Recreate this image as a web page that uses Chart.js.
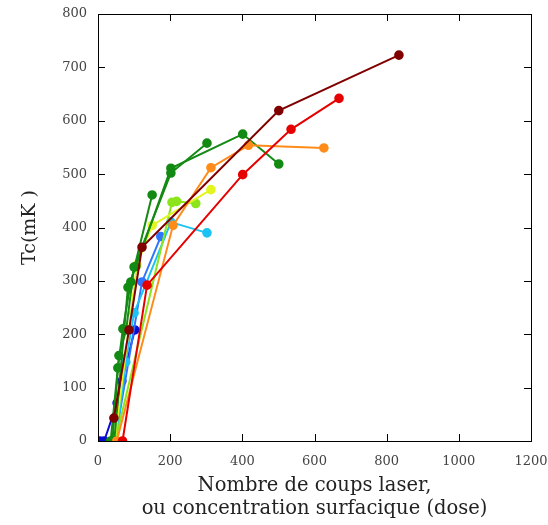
<!DOCTYPE html>
<html>
<head>
<meta charset="utf-8">
<script src="https://cdn.jsdelivr.net/npm/chart.js@4.4.1/dist/chart.umd.min.js"></script>
<style>
  html, body { margin: 0; padding: 0; background: #ffffff; }
  #wrap { width: 548px; height: 525px; }
</style>
</head>
<body>
<div id="wrap"><canvas id="tcChart" width="548" height="525"></canvas></div>
<script>
// series: dose (x) and Tc in mK (y)
const maroonX = [44, 86, 122, 501, 834];
const maroonY = [43, 208, 363, 619, 723];
const redX = [68, 136, 401, 535, 668];
const redY = [0, 292, 499, 584, 642];
const orangeX = [52, 208, 313, 417, 626];
const orangeY = [0, 404, 512, 554, 549];
const green1X = [35, 55, 69, 91, 150];
const green1Y = [0, 137, 210, 298, 461];
const green2X = [40, 58, 78, 100, 202, 302];
const green2Y = [0, 160, 208, 326, 502, 558];
const green3X = [45, 83, 105, 202, 401, 501];
const green3Y = [0, 288, 327, 511, 575, 519];
const yellowX = [46, 108, 150, 313];
const yellowY = [0, 330, 404, 471];
const lightGreenX = [48, 205, 218, 271];
const lightGreenY = [0, 447, 449, 445];
const cyanX = [50, 77, 100, 202, 302];
const cyanY = [0, 148, 240, 410, 390];
const blueX = [47, 122, 174];
const blueY = [0, 298, 383];
const navyX = [5, 17, 53, 66, 102];
const navyY = [0, 0, 71, 112, 208];

const xTicks = [0, 200, 400, 600, 800, 1000, 1200];
const yTicks = [0, 100, 200, 300, 400, 500, 600, 700, 800];

function pts(xs, ys) {
  return xs.map((x, i) => ({ x: x, y: ys[i] }));
}

function series(xs, ys, color) {
  return {
    data: pts(xs, ys),
    borderColor: color,
    backgroundColor: color,
    borderWidth: 2,
    pointRadius: 3.8,
    pointHoverRadius: 3.8,
    showLine: true,
    tension: 0
  };
}

// box around the plot with inward ticks on all four sides
const framePlugin = {
  id: 'frame',
  afterDraw(chart) {
    const { ctx, chartArea: a, scales } = chart;
    ctx.save();
    ctx.strokeStyle = '#000000';
    ctx.lineWidth = 1;
    ctx.strokeRect(a.left + 0.5, a.top + 0.5, a.right - a.left, a.bottom - a.top);
    ctx.beginPath();
    xTicks.forEach(v => {
      const px = Math.round(scales.x.getPixelForValue(v)) + 0.5;
      ctx.moveTo(px, a.bottom); ctx.lineTo(px, a.bottom - 7);
      ctx.moveTo(px, a.top); ctx.lineTo(px, a.top + 7);
    });
    yTicks.forEach(v => {
      const py = Math.round(scales.y.getPixelForValue(v)) + 0.5;
      ctx.moveTo(a.left, py); ctx.lineTo(a.left + 7, py);
      ctx.moveTo(a.right, py); ctx.lineTo(a.right - 7, py);
    });
    ctx.stroke();
    ctx.restore();
  }
};

const serif = "'DejaVu Serif', serif";

window.addEventListener('DOMContentLoaded', () => {
  const ctx = document.getElementById('tcChart').getContext('2d');

  new Chart(ctx, {
    type: 'scatter',
    data: {
      datasets: [
        series(maroonX, maroonY, '#800000'),
        series(redX, redY, '#e60000'),
        series(orangeX, orangeY, '#ff8c1a'),
        series(green1X, green1Y, '#138a13'),
        series(green2X, green2Y, '#138a13'),
        series(green3X, green3Y, '#138a13'),
        series(yellowX, yellowY, '#e2f51f'),
        series(lightGreenX, lightGreenY, '#8ce51c'),
        series(cyanX, cyanY, '#1cc3f2'),
        series(blueX, blueY, '#2f74ff'),
        series(navyX, navyY, '#0a0ad0')
      ]
    },
    options: {
      responsive: false,
      animation: false,
      layout: { padding: { left: 0, right: 17, top: 14, bottom: 0 } },
      plugins: {
        legend: { display: false },
        tooltip: { enabled: false }
      },
      scales: {
        x: {
          type: 'linear',
          min: 0,
          max: 1200,
          afterBuildTicks(scale) {
            scale.ticks = xTicks.map(v => ({ value: v }));
          },
          afterFit(scale) {
            scale.height = 84;
            scale.paddingLeft = 0;
            scale.paddingRight = 0;
          },
          grid: { display: false, drawTicks: false },
          border: { display: false },
          ticks: {
            padding: 13,
            color: '#444444',
            font: { family: serif, size: 13 },
            maxRotation: 0,
            callback: v => String(v)
          },
          title: {
            display: true,
            text: ['Nombre de coups laser,', 'ou concentration surfacique (dose)'],
            color: '#222222',
            font: { family: serif, size: 19.5, lineHeight: 1.2 },
            padding: { top: 4 }
          }
        },
        y: {
          type: 'linear',
          min: 0,
          max: 800,
          afterBuildTicks(scale) {
            scale.ticks = yTicks.map(v => ({ value: v }));
          },
          afterFit(scale) {
            scale.width = 98;
            scale.paddingTop = 0;
            scale.paddingBottom = 0;
          },
          grid: { display: false, drawTicks: false },
          border: { display: false },
          ticks: {
            padding: 11,
            color: '#444444',
            font: { family: serif, size: 13 },
            callback: v => String(v)
          },
          title: {
            display: true,
            text: 'Tc(mK )',
            color: '#222222',
            font: { family: serif, size: 19 },
            padding: { top: 19, bottom: 0 }
          }
        }
      }
    },
    plugins: [framePlugin]
  });
});
</script>
</body>
</html>
